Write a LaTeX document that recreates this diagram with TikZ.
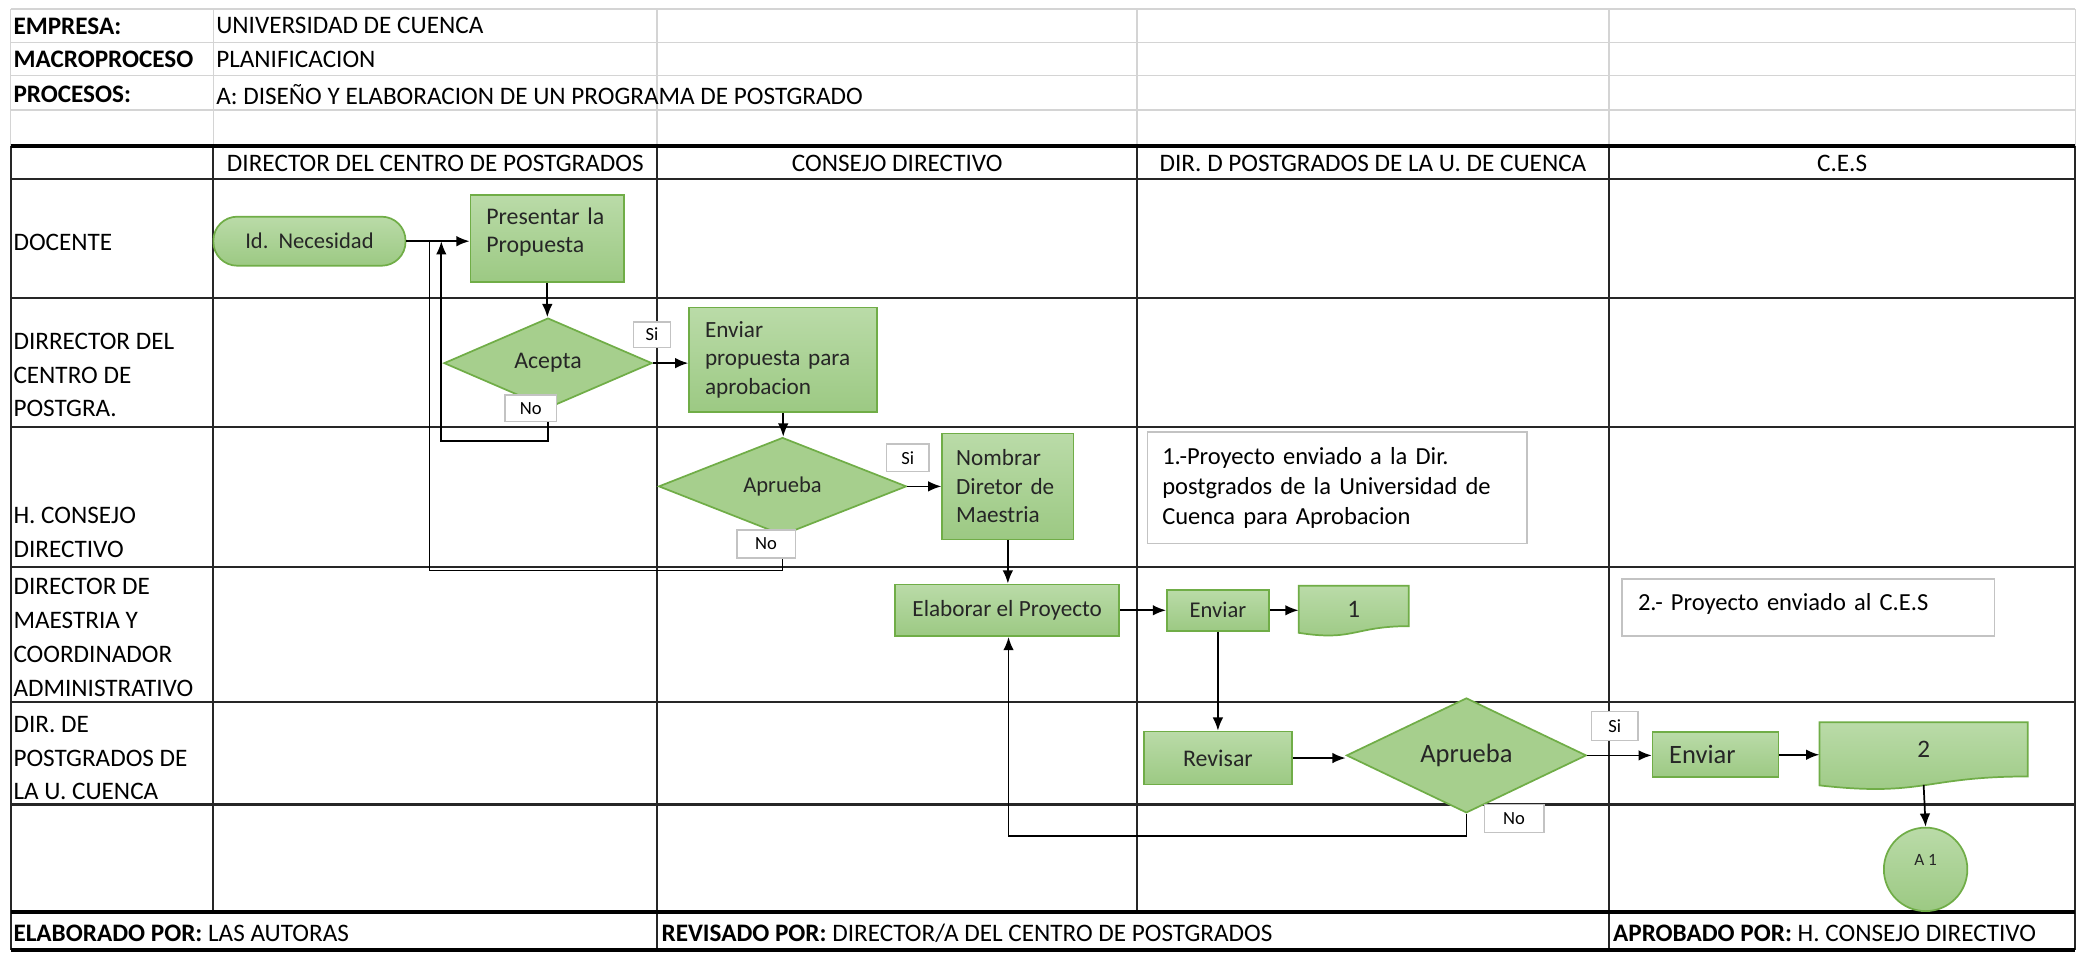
\documentclass[tikz,border=0pt]{standalone}
\usepackage{fontspec}
\setmainfont{Carlito}
\usetikzlibrary{shapes.geometric,arrows.meta,calc}
\definecolor{gtop}{RGB}{186,219,168}
\definecolor{gbot}{RGB}{156,201,131}
\definecolor{gmid}{RGB}{166,207,141}
\definecolor{gline}{RGB}{112,173,71}
\definecolor{txt}{RGB}{38,38,38}
\definecolor{gridc}{RGB}{212,212,212}
\definecolor{lblc}{RGB}{195,195,195}
\newcommand\fsz[2]{\fontsize{#1}{#2}\selectfont}
\newcommand\docpath[4]{\path[draw=gline, line width=1.3pt, top color=gtop, bottom color=gbot] (#1,#2) -- (#3,#2) -- (#3,{#2+0.802*(#4-#2)}) .. controls ({(#1+#3)/2},{#2+0.802*(#4-#2)}) and ({(#1+#3)/2},{#2+1.1075*(#4-#2)}) .. (#1,{#2+0.934*(#4-#2)}) -- cycle;}
\begin{document}
\begin{tikzpicture}[x=1pt,y=-1pt,
  box/.style={draw=gline, line width=1.3pt, top color=gtop, bottom color=gbot, text=txt, inner sep=0pt},
  dia/.style={diamond, draw=gline, line width=1.3pt, fill=gmid, text=txt, inner sep=0pt},
  lbl/.style={draw=lblc, line width=1pt, fill=white, inner sep=0pt, font=\fsz{14}{16}},
  note/.style={draw=lblc, line width=1.2pt, fill=white, inner sep=0pt, align=left, text=black},
  arr/.style={-{Latex[length=10pt,width=8pt]}, line width=1.3pt},
  con/.style={line width=1.3pt},
  thingrid/.style={gridc, line width=1.3pt},
  rowl/.style={line width=1.6pt, black!85},
  heavy/.style={line width=2.8pt},
  txtn/.style={anchor=west, inner sep=0pt, font=\fsz{19}{25.5}, align=left},
  hdr/.style={inner sep=0pt, font=\fsz{19}{25.5}}
]
\useasboundingbox (0,0) rectangle (1568,720);
\fill[white] (0,0) rectangle (1568,720);

% top grid
\foreach \y in {7,32,57,83} \draw[thingrid] (8,\y) -- (1566,\y);
\foreach \x in {8,161,496,858,1214,1566} \draw[thingrid] (\x,7) -- (\x,110);
% main grid
\foreach \y in {135,225,322,428,530,607} \draw[rowl] (8,\y) -- (1566,\y);
\foreach \x in {161,858} \draw[rowl] (\x,110) -- (\x,688);
\foreach \x in {8,496,1214,1566} \draw[rowl] (\x,110) -- (\x,717);
\draw[heavy] (8,110) -- (1566,110);
\draw[heavy] (8,688) -- (1566,688);
\draw[heavy] (8,717) -- (1566,717);

% top texts
\node[txtn] (e1) at (10,19.5) {\bfseries EMPRESA:};
\node[txtn] (e2) at (163,19.5) {UNIVERSIDAD DE CUENCA};
\node[txtn] (m1) at (10,45) {\bfseries MACROPROCESO};
\node[txtn] (m2) at (163,45) {PLANIFICACION};
\node[txtn] (p1) at (10,71) {\bfseries PROCESOS:};
\node[txtn] (p2) at (163,71) {A: DISEÑO Y ELABORACION DE UN PROGRAMA DE POSTGRADO};

% header
\node[hdr] (h1) at (328.5,123) {DIRECTOR DEL CENTRO DE POSTGRADOS};
\node[hdr] (h2) at (677,123) {CONSEJO DIRECTIVO};
\node[hdr] (h3) at (1036,123) {DIR. D POSTGRADOS DE LA U. DE CUENCA};
\node[hdr] (h4) at (1390,123) {C.E.S};

% lanes
\node[txtn] (l1) at (10,183) {DOCENTE};
\node[txtn] (l2) at (10,283) {DIRRECTOR DEL\\CENTRO DE\\POSTGRA.};
\node[txtn] (l3) at (10,401.5) {H. CONSEJO\\DIRECTIVO};
\node[txtn] (l4) at (10,481) {DIRECTOR DE\\MAESTRIA Y\\COORDINADOR\\ADMINISTRATIVO};
\node[txtn] (l5) at (10,572) {DIR. DE\\POSTGRADOS DE\\LA U. CUENCA};

% footer
\node[txtn] (f1) at (10,704) {\bfseries ELABORADO POR:\mdseries{} LAS AUTORAS};
\node[txtn] (f2) at (499,704) {\bfseries REVISADO POR:\mdseries{} DIRECTOR/A DEL CENTRO DE POSTGRADOS};
\node[txtn] (f3) at (1217,704) {\bfseries APROBADO POR:\mdseries{} H. CONSEJO DIRECTIVO};

% notes
\node[note, minimum width=286, minimum height=84, text width=264, inner xsep=11pt, font=\fsz{18.5}{22.5}] (n1) at (1009,368) {1.-Proyecto enviado a la Dir.\\postgrados de la Universidad de\\Cuenca para Aprobacion};
\node[note, minimum width=281, minimum height=43, text width=257, inner xsep=12pt, text depth=9pt, font=\fsz{18.5}{22.5}] (n2) at (1364.5,458.5) {2.- Proyecto enviado al C.E.S};

% shapes
\node[box, rounded corners=18pt, minimum width=145, minimum height=37, font=\fsz{17}{21}] (id) at (233.5,182) {Id.\ \ Necesidad};
\node[box, minimum width=116, minimum height=66, text width=92, inner xsep=12pt, align=left, font=\fsz{18}{21.5}] (pres) at (413,180) {Presentar la\\Propuesta\rule[-12.5pt]{0pt}{0pt}};
\node[dia, minimum width=157, minimum height=68, font=\fsz{18}{21}] (acep) at (413.5,274) {Acepta};
\node[box, minimum width=142, minimum height=79, text width=118, inner xsep=12pt, align=left, font=\fsz{17.5}{21.5}] (envp) at (591,271.5) {Enviar\\propuesta para\\aprobacion};
\node[dia, minimum width=187, minimum height=62, font=\fsz{17}{21}] (apr1) at (590.5,367) {Aprueba};
\node[box, minimum width=99, minimum height=80, text width=78, inner xsep=10.5pt, align=left, font=\fsz{17.5}{21.5}] (nomb) at (760.5,367) {Nombrar\\Diretor de\\Maestria};
\node[box, minimum width=169, minimum height=39, font=\fsz{17.5}{21}] (elab) at (760,460.5) {Elaborar el Proyecto};
\node[box, minimum width=77, minimum height=31, font=\fsz{17}{21}] (env1) at (919,460.5) {Enviar};
\docpath{980}{442}{1063}{480}
\node[inner sep=0pt, minimum width=83, minimum height=38, font=\fsz{19}{22}, text=txt] (doc1) at (1021.5,460) {1};
\node[box, minimum width=112, minimum height=40, font=\fsz{18}{21}] (rev) at (919,572) {Revisar};
\node[dia, minimum width=181, minimum height=61, font=\fsz{20}{24}] (apr2) at (1106.5,570) {Aprueba};
\node[box, minimum width=95, minimum height=34, text width=70, inner xsep=12.5pt, align=left, font=\fsz{20}{24}] (env2) at (1294.5,569.5) {Enviar};
\docpath{1373}{545}{1530}{596}
\node[inner sep=0pt, minimum width=157, minimum height=51, text depth=10pt, font=\fsz{19}{22}, text=txt] (doc2) at (1451.5,570.5) {2};
\node[circle, draw=gline, line width=1.3pt, top color=gtop, bottom color=gbot, minimum size=63, inner sep=0pt, text depth=14pt, font=\fsz{13}{15}, text=txt] (a1) at (1453,656) {A 1};

% junction coordinates
\coordinate (j1) at (333,182);
\coordinate (j2) at (324,182);
\coordinate (loopA) at (333,333);
\coordinate (loopB) at (324,430.5);
\coordinate (loopC) at (761,631);

% connectors
\draw[arr] (id.east) -- (id.east -| pres.west);
\draw[arr] (pres.south) -- (pres.south |- acep.north);
\draw[arr] (acep.east) -- (acep.east -| envp.west);
\draw[arr] (envp.south) -- (envp.south |- apr1.north);
\draw[arr] (apr1.east) -- (apr1.east -| nomb.west);
\draw[arr] (nomb.south) -- (nomb.south |- elab.north);
\draw[arr] (elab.east) -- (elab.east -| env1.west);
\draw[arr] (env1.east) -- (env1.east -| doc1.west);
\draw[arr] (env1.south) -- (env1.south |- rev.north);
\draw[arr] (rev.east) -- (rev.east -| apr2.west);
\draw[arr] (apr2.east) -- (apr2.east -| env2.west);
\draw[arr] (env2.east) -- (env2.east -| doc2.west);
\draw[arr] ($(doc2.south)+(0,-4)$) -- (a1.north);
\draw[arr] (acep.south) |- (loopA) -- (j1);
\draw[con] (apr1.south) |- (loopB) -- (j2);
\draw[arr] (apr2.south) |- (loopC) -- (loopC |- elab.south);

% Si / No labels
\node[lbl, minimum width=28, minimum height=19] (si1) at (492,252.5) {Si};
\node[lbl, minimum width=39, minimum height=20] (no1) at (400.5,308) {No};
\node[lbl, minimum width=32, minimum height=21] (si2) at (685,345.5) {Si};
\node[lbl, minimum width=44, minimum height=21] (no2) at (578,410.5) {No};
\node[lbl, minimum width=35, minimum height=22] (si3) at (1218.5,548) {Si};
\node[lbl, minimum width=45, minimum height=21] (no3) at (1142.5,617.5) {No};
\end{tikzpicture}
\end{document}
